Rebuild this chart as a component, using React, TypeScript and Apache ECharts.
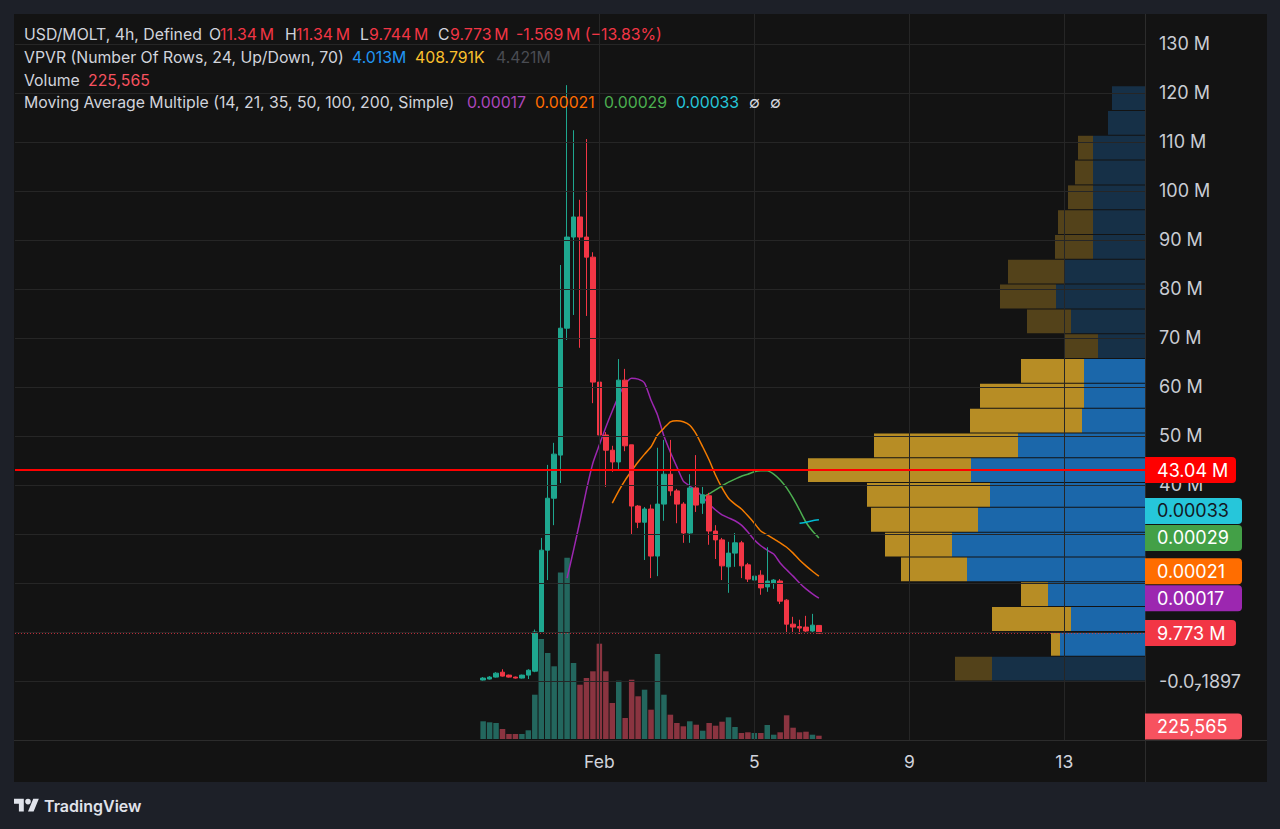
import React, { useEffect, useRef } from "react";
import * as echarts from "echarts";

// ---------- DATA ----------
const SLOT_COUNT = 175; // 4h slots visible on the time scale
const START_UTC = Date.UTC(2026, 0, 17, 0, 0); // slot 0
const FIRST_CANDLE_SLOT = 72;

// [open, close, low, high] in millions
const candles: number[][] = [
  [0.2, 0.6, 0.1, 0.8], [0.4, 0.8, 0.3, 1.0], [0.8, 1.6, 0.7, 1.8], [1.8, 1.0, 0.9, 2.4],
  [1.2, 0.8, 0.7, 1.3], [0.8, 0.6, 0.5, 0.9], [0.6, 1.2, 0.5, 1.3], [1.2, 2.2, 0.4, 2.4],
  [2.0, 10.0, 1.8, 10.5], [10.0, 26.7, 9.8, 29.2], [26.7, 37.3, 20.6, 44.1], [37.3, 46.3, 31.8, 48.6],
  [46.1, 72.0, 40.4, 84.9], [72.0, 90.6, 69.6, 121.6], [90.6, 94.7, 74.7, 112.4], [94.7, 90.6, 68.0, 98.2],
  [90.6, 86.5, 74.5, 110.6], [86.5, 61.0, 56.7, 87.5], [61.0, 50.2, 49.2, 64.5], [50.2, 47.1, 39.6, 50.8],
  [47.1, 44.7, 42.7, 48.0], [44.7, 61.4, 43.1, 65.7], [61.4, 48.0, 46.9, 63.7], [48.2, 35.7, 30.0, 48.2],
  [35.7, 32.4, 31.2, 35.9], [32.4, 35.1, 24.7, 35.5], [35.1, 25.5, 21.0, 36.0], [25.5, 36.1, 21.4, 47.6],
  [36.1, 42.2, 32.7, 49.2], [42.2, 38.8, 37.8, 49.2], [38.8, 36.1, 32.2, 39.2], [36.1, 30.2, 28.2, 36.5],
  [30.2, 39.4, 28.2, 42.2], [39.4, 35.9, 34.5, 46.1], [36.3, 38.0, 34.1, 39.6], [37.8, 30.6, 27.8, 38.4],
  [30.6, 28.8, 24.9, 31.8], [28.8, 23.5, 20.6, 29.2], [23.3, 26.1, 18.0, 28.4], [26.1, 28.2, 23.3, 30.2],
  [28.2, 23.5, 21.0, 28.6], [23.7, 20.8, 20.2, 24.1], [20.6, 21.4, 19.0, 21.8], [21.6, 19.0, 17.6, 22.6],
  [19.2, 20.4, 18.2, 27.3], [20.0, 20.6, 18.8, 20.8], [20.4, 16.3, 15.7, 20.8], [16.5, 11.6, 10.0, 16.7],
  [11.6, 11.0, 10.0, 13.1], [11.1, 10.8, 9.6, 12.5], [11.0, 10.2, 10.0, 13.3], [10.2, 11.4, 10.0, 13.7],
  [11.34, 9.773, 9.744, 11.34],
];

const volumes: number[] = [
  1210000, 1140000, 1094000, 684000, 342000, 342000, 342000, 595000, 3028000, 6835000,
  5878000, 4969000, 11387000, 12392000, 5195000, 3711000, 4169000, 4627000, 6514000, 4627000,
  2461000, 3985000, 1435000, 4053000, 2919000, 3370000, 2003000, 5810000, 3028000, 1661000,
  1094000, 868000, 1210000, 977000, 567000, 1094000, 909000, 1182000, 1483000, 820000,
  410000, 458000, 410000, 410000, 957000, 294000, 458000, 1620000, 772000, 458000,
  499000, 294000, 225565,
];

// moving averages (millions), each starting at the given candle index
const ma14Start = 13;
const ma14 = [21.0, 26.7, 32.7, 39.0, 44.5, 48.2, 51.8, 55.1, 58.2, 60.6, 61.8, 61.6, 60.8, 57.3, 54.3, 50.0, 46.7, 43.7, 40.8, 39.8, 38.8, 37.6, 36.1, 34.9, 33.9, 33.3, 32.7, 31.8, 30.4, 28.8, 27.6, 26.7, 25.9, 24.1, 22.7, 21.4, 20.0, 18.8, 17.8, 16.9];
const ma21Start = 20;
const ma21 = [36.3, 38.8, 41.0, 42.9, 44.7, 46.3, 47.8, 50.2, 51.6, 52.9, 53.1, 52.9, 52.2, 50.4, 47.8, 45.1, 42.0, 39.4, 37.3, 36.1, 35.1, 33.7, 32.2, 30.6, 29.8, 29.0, 28.2, 27.3, 26.1, 24.7, 23.5, 22.4, 21.4];
const ma35Start = 34;
const ma35 = [37.6, 38.2, 39.0, 39.8, 40.6, 41.2, 41.8, 42.2, 42.7, 42.9, 42.9, 42.2, 41.0, 39.4, 37.3, 34.9, 32.4, 30.6, 29.2];
const ma50Start = 49;
const ma50 = [32.2, 32.4, 32.7, 32.9];

// Volume profile rows, top -> bottom (relative volume units)
const vpvrUp = [33, 37, 52, 52, 52, 52, 52, 81, 89, 74, 47, 61, 61, 63, 127, 174, 155, 167, 193, 178, 97, 74, 85, 153];
const vpvrDown = [0, 0, 15, 18, 25, 35, 38, 56, 56, 44, 33, 63, 104, 112, 144, 163, 123, 107, 67, 66, 27, 79, 9, 37];
const vpvrValueArea = [0, 0, 0, 0, 0, 0, 0, 0, 0, 0, 0, 1, 1, 1, 1, 1, 1, 1, 1, 1, 1, 1, 1, 0];
const VPVR_LOW = 0.1;
const VPVR_HIGH = 121.6;
const VPVR_SCALE_MAX = 1131;

const priceTickValues = [130, 120, 110, 100, 90, 80, 70, 60, 50, 40];
const gridLevels = [0, 10, 20, 30, 40, 50, 60, 70, 80, 90, 100, 110, 120, 130];
const xTickCats = ["02-01 00:00", "02-05 00:00", "02-09 00:00", "02-13 00:00"];
const xTickLabels = ["Feb", "5", "9", "13"];

const PRICE_MIN = -12.04;
const PRICE_MAX = 136.12;
const VOL_AXIS_MAX = 13670000;
const LAST_PRICE = 9.773;
const LINE_PRICE = 43.04;
const LAST_VOLUME = 225565;

// ---------- STYLE ----------
const FONT = "Inter, 'Noto Sans', 'DejaVu Sans', sans-serif";
const TXT = "#d1d4dc";
const AXIS_TXT = "#c9ccd3";
const UP = "#1ea78f";
const DOWN = "#f23645";
const VOL_UP = "#23675e";
const VOL_DOWN = "#8a3440";
const C_PURPLE = "#9c27b0";
const C_ORANGE = "#f57c00";
const C_GREEN = "#4caf50";
const C_CYAN = "#00bcd4";
const HEADER_SIZE = 15.8;
const AXIS_SIZE = 18;

const LOGO_D = "M14 22H7V11H0V4h14v18zM28 22h-8l7.5-18h8L28 22zM20 4a4 4 0 1 1 0 8a4 4 0 1 1 0-8z";
try {
  echarts.graphic.registerShape("tvlogo", echarts.graphic.extendPath(LOGO_D, {}));
} catch (e) {
  /* already registered */
}

const pad2 = (n: number) => (n < 10 ? "0" + n : "" + n);
const categories: string[] = [];
for (let i = 0; i < SLOT_COUNT; i++) {
  const d = new Date(START_UTC + i * 4 * 3600 * 1000);
  categories.push(`${pad2(d.getUTCMonth() + 1)}-${pad2(d.getUTCDate())} ${pad2(d.getUTCHours())}:00`);
}
const tickLabelMap: Record<string, string> = {};
xTickCats.forEach((c, i) => (tickLabelMap[c] = xTickLabels[i]));

const maSeries = (vals: number[], start: number) =>
  vals.map((v, i) => [FIRST_CANDLE_SLOT + start + i, v]);

function buildOption(): any {
  const rowH = (VPVR_HIGH - VPVR_LOW) / vpvrUp.length;
  const vpvrData = vpvrUp.map((u, r) => {
    const hi = VPVR_HIGH - r * rowH;
    return [hi - rowH, hi, u, vpvrDown[r], vpvrValueArea[r]];
  });

  return {
    animation: false,
    backgroundColor: "#131313",
    grid: [
      { left: 15, top: 14, width: 1130, height: 726 },
      { left: 15, top: 539, width: 1130, height: 200 },
      { left: 14, top: 14, width: 1131, height: 726 },
    ],
    xAxis: [
      {
        type: "category",
        gridIndex: 0,
        data: categories,
        boundaryGap: true,
        axisLine: { show: false },
        axisTick: { show: false },
        splitLine: { show: false },
        axisLabel: {
          interval: (_i: number, v: string) => v in tickLabelMap,
          formatter: (v: string) => tickLabelMap[v] || "",
          color: TXT,
          fontSize: 17.5,
          fontFamily: FONT,
          margin: 12,
        },
      },
      { type: "category", gridIndex: 1, data: categories, boundaryGap: true, show: false },
      { type: "value", gridIndex: 2, min: 0, max: VPVR_SCALE_MAX, inverse: true, show: false },
    ],
    yAxis: [
      { type: "value", gridIndex: 0, min: PRICE_MIN, max: PRICE_MAX, show: false, splitLine: { show: false } },
      { type: "value", gridIndex: 1, min: 0, max: VOL_AXIS_MAX, show: false, splitLine: { show: false } },
      { type: "value", gridIndex: 2, min: PRICE_MIN, max: PRICE_MAX, show: false, splitLine: { show: false } },
    ],
    series: [
      {
        name: "grid",
        type: "line",
        xAxisIndex: 0,
        yAxisIndex: 0,
        data: [],
        silent: true,
        z: 0,
        markLine: {
          silent: true,
          symbol: ["none", "none"],
          label: { show: false },
          emphasis: { disabled: true },
          lineStyle: { color: "#262626", width: 1, type: "solid" },
          data: [
            ...gridLevels.map((v) => ({ yAxis: v })),
            ...xTickCats.map((c) => ({ xAxis: c })),
          ],
        },
      },
      {
        name: "VPVR",
        type: "custom",
        xAxisIndex: 2,
        yAxisIndex: 2,
        z: 1,
        silent: true,
        data: vpvrData,
        encode: { x: 2, y: 0 },
        renderItem: (_p: any, api: any) => {
          const lo = api.value(0);
          const hi = api.value(1);
          const up = api.value(2);
          const dn = api.value(3);
          const va = api.value(4);
          const topR = api.coord([0, hi]);
          const botR = api.coord([0, lo]);
          const upEnd = api.coord([up, lo]);
          const totEnd = api.coord([up + dn, lo]);
          const y0 = topR[1] + 1;
          const h = botR[1] - topR[1] - 1;
          return {
            type: "group",
            children: [
              {
                type: "rect",
                shape: { x: upEnd[0], y: y0, width: topR[0] - upEnd[0], height: h },
                style: { fill: va ? "rgba(30,136,229,0.72)" : "rgba(30,136,229,0.25)" },
              },
              {
                type: "rect",
                shape: { x: totEnd[0], y: y0, width: upEnd[0] - totEnd[0], height: h },
                style: { fill: va ? "rgba(251,192,45,0.71)" : "rgba(251,192,45,0.28)" },
              },
            ],
          };
        },
      },
      {
        name: "Volume",
        type: "bar",
        xAxisIndex: 1,
        yAxisIndex: 1,
        barWidth: 5.5,
        z: 1,
        silent: true,
        data: volumes.map((v, k) => ({
          value: [FIRST_CANDLE_SLOT + k, v],
          itemStyle: { color: candles[k][1] >= candles[k][0] ? VOL_UP : VOL_DOWN },
        })),
      },
      {
        name: "last",
        type: "line",
        xAxisIndex: 0,
        yAxisIndex: 0,
        data: [],
        z: 1,
        markLine: {
          silent: true,
          symbol: ["none", "none"],
          label: { show: false },
          lineStyle: { color: "rgba(242,54,69,0.75)", width: 1, type: [1, 2] },
          data: [{ yAxis: LAST_PRICE }],
        },
      },
      ...[
        [ma14, ma14Start, C_PURPLE],
        [ma21, ma21Start, C_ORANGE],
        [ma35, ma35Start, C_GREEN],
        [ma50, ma50Start, C_CYAN],
      ].map(([vals, start, color]: any) => ({
        type: "line",
        xAxisIndex: 0,
        yAxisIndex: 0,
        data: maSeries(vals, start),
        showSymbol: false,
        smooth: 0.2,
        silent: true,
        z: 3,
        lineStyle: { color, width: 1.5 },
      })),
      {
        name: "USD/MOLT",
        type: "candlestick",
        xAxisIndex: 0,
        yAxisIndex: 0,
        barWidth: 5,
        z: 4,
        silent: true,
        encode: { x: 0, y: [1, 2, 3, 4] },
        data: candles.map((c, k) => [FIRST_CANDLE_SLOT + k, c[0], c[1], c[2], c[3]]),
        itemStyle: { color: UP, color0: DOWN, borderColor: UP, borderColor0: DOWN, borderWidth: 1 },
      },
      {
        name: "hline",
        type: "line",
        xAxisIndex: 0,
        yAxisIndex: 0,
        data: [],
        z: 6,
        markLine: {
          silent: true,
          symbol: ["none", "none"],
          label: { show: false },
          lineStyle: { color: "#ff0000", width: 2, type: "solid" },
          data: [{ yAxis: LINE_PRICE }],
        },
      },
    ],
  };
}

function txt(x: number, y: number, text: string, fill: string, size: number, extra: any = {}) {
  return {
    type: "text",
    x,
    y,
    z: 60,
    silent: true,
    style: {
      text,
      fill,
      fontSize: size,
      fontFamily: FONT,
      verticalAlign: "middle",
      textVerticalAlign: "middle",
      ...extra,
    },
  };
}

function buildGraphics(chart: any): any[] {
  const yP = (v: number) => chart.convertToPixel({ yAxisIndex: 0 }, v) as number;
  const yV = (v: number) => chart.convertToPixel({ yAxisIndex: 1 }, v) as number;
  const axisX = chart.convertToPixel({ xAxisIndex: 2 }, 0) as number;
  const paneBottom = yP(PRICE_MIN);
  const els: any[] = [];

  // outer frame
  const FRAME = "#1d2028";
  els.push({ type: "rect", z: 90, silent: true, shape: { x: 0, y: 0, width: 1280, height: 14 }, style: { fill: FRAME } });
  els.push({ type: "rect", z: 90, silent: true, shape: { x: 0, y: 0, width: 14, height: 829 }, style: { fill: FRAME } });
  els.push({ type: "rect", z: 90, silent: true, shape: { x: 1267, y: 0, width: 13, height: 829 }, style: { fill: FRAME } });
  els.push({ type: "rect", z: 90, silent: true, shape: { x: 0, y: 782, width: 1280, height: 47 }, style: { fill: FRAME } });

  // separators
  els.push({ type: "line", z: 50, silent: true, shape: { x1: axisX + 0.5, y1: 14, x2: axisX + 0.5, y2: 782 }, style: { stroke: "#2c2c2c", lineWidth: 1 } });
  els.push({ type: "line", z: 50, silent: true, shape: { x1: 14, y1: Math.round(paneBottom) + 0.5, x2: 1267, y2: Math.round(paneBottom) + 0.5 }, style: { stroke: "#2c2c2c", lineWidth: 1 } });

  // price axis labels
  priceTickValues.forEach((v) => els.push(txt(axisX + 14, yP(v), `${v} M`, AXIS_TXT, AXIS_SIZE)));
  els.push(txt(axisX + 14, yP(0), "-0.0\u20871897", AXIS_TXT, AXIS_SIZE));

  // colored tags
  const tag = (y: number, text: string, bg: string, fg: string, w: number) => {
    els.push({ type: "rect", z: 70, silent: true, shape: { x: axisX, y: y - 13, width: w, height: 26, r: [0, 4, 4, 0] }, style: { fill: bg } });
    const t = txt(axisX + 12, y, text, fg, AXIS_SIZE);
    t.z = 71;
    els.push(t);
  };
  tag(yP(LINE_PRICE), "43.04 M", "#ff0000", "#ffffff", 91);

  const stack = [
    { v: ma50[ma50.length - 1], text: "0.00033", bg: "#26c6da", fg: "#131722", w: 97 },
    { v: ma35[ma35.length - 1], text: "0.00029", bg: "#43a047", fg: "#ffffff", w: 97 },
    { v: ma21[ma21.length - 1], text: "0.00021", bg: "#ff6d00", fg: "#ffffff", w: 97 },
    { v: ma14[ma14.length - 1], text: "0.00017", bg: "#9c27b0", fg: "#ffffff", w: 97 },
    { v: LAST_PRICE, text: "9.773 M", bg: "#f23645", fg: "#ffffff", w: 91 },
  ].map((s) => ({ ...s, y: yP(s.v) }));
  for (let i = stack.length - 2; i >= 0; i--) {
    if (stack[i].y > stack[i + 1].y - 27) stack[i].y = stack[i + 1].y - 27;
  }
  stack.forEach((s) => tag(s.y, s.text, s.bg, s.fg, s.w));
  tag(Math.min(yV(LAST_VOLUME), paneBottom - 13.5), "225,565", "#f7525f", "#ffffff", 97);

  // header legend
  const RED = "#f23645";
  const rows: [number, [string, string, number][]][] = [
    [34, [["USD/MOLT, 4h, Defined", TXT, 24], ["O", TXT, 209], ["11.34\u202fM", RED, 220], ["H", TXT, 285], ["11.34\u202fM", RED, 296], ["L", TXT, 360], ["9.744\u202fM", RED, 369], ["C", TXT, 438], ["9.773\u202fM", RED, 450], ["-1.569\u202fM (\u221213.83%)", RED, 516]]],
    [57, [["VPVR (Number Of Rows, 24, Up/Down, 70)", TXT, 24], ["4.013M", "#2196f3", 352], ["408.791K", "#fbc02d", 415], ["4.421M", "#4a4c52", 496]]],
    [80, [["Volume", TXT, 24], ["225,565", "#f7525f", 88]]],
    [102, [["Moving Average Multiple (14, 21, 35, 50, 100, 200, Simple)", TXT, 24], ["0.00017", "#ab47bc", 467], ["0.00021", "#ff6d00", 535], ["0.00029", C_GREEN, 604], ["0.00033", "#26c6da", 676], ["\u2205", TXT, 749], ["\u2205", TXT, 770]]],
  ];
  rows.forEach(([y, segs]) => segs.forEach(([t, c, x]) => els.push(txt(x, y, t, c, HEADER_SIZE))));

  // TradingView logo
  els.push({ type: "tvlogo", z: 95, silent: true, x: 14, y: 796, scaleX: 0.7, scaleY: 0.7, style: { fill: "#e0e3eb" } });
  const lt = txt(44, 806, "TradingView", "#e0e3eb", 16, { fontWeight: 600 });
  lt.z = 95;
  els.push(lt);

  return els;
}

export default function App() {
  const ref = useRef<HTMLDivElement>(null);
  useEffect(() => {
    if (!ref.current) return;
    const chart = echarts.init(ref.current, null, { renderer: "svg", width: 1280, height: 829 });
    chart.setOption(buildOption());
    chart.setOption({ graphic: { elements: buildGraphics(chart) } });
    return () => chart.dispose();
  }, []);
  return (
    <div
      ref={ref}
      style={{ position: "fixed", left: 0, top: 0, width: 1280, height: 829 }}
    />
  );
}
